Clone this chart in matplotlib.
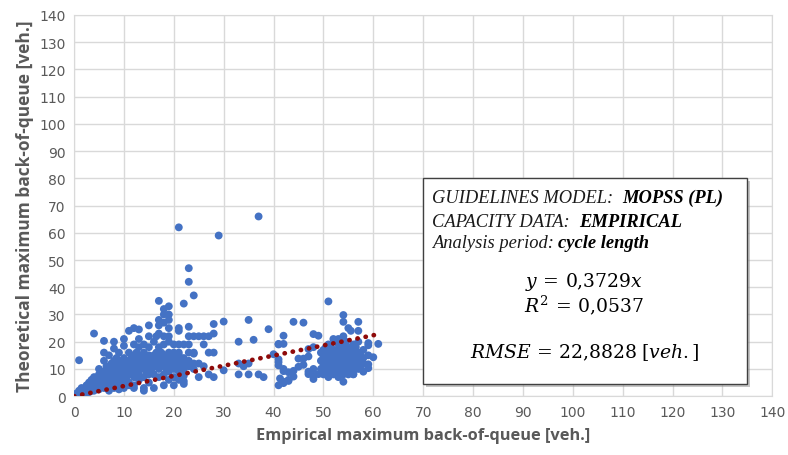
import matplotlib
matplotlib.use("Agg")
import matplotlib.pyplot as plt
from matplotlib.patches import Rectangle
import numpy as np

# empirical vs theoretical maximum back-of-queue [veh.]
empirical = [
    # 0-5
    0.5, 1, 1, 1.5, 1.5, 2, 2, 2.5, 2.5, 3, 3, 3.5, 3.5, 4, 4, 4, 4.5, 4.5, 5, 5, 5, 5,
    2, 3, 4, 5, 6, 7, 8, 9, 10, 11, 12, 14,
    # 5-10
    5.5, 5.5, 6, 6, 6, 6, 6, 6, 6.5, 6.5, 7, 7, 7, 7, 7, 7.5, 7.5, 8, 8, 8, 8, 8, 8, 8,
    8.5, 8.5, 9, 9, 9, 9, 9, 9.5, 9.5, 9.5, 10, 10, 10, 10, 10, 10, 10,
    # 10-15
    10.5, 10.5, 10.5, 11, 11, 11, 11, 11, 11, 11.5, 11.5, 11.5, 12, 12, 12, 12, 12, 12, 12,
    12.5, 12.5, 12.5, 13, 13, 13, 13, 13, 13, 13, 13, 13.5, 13.5, 13.5, 14, 14, 14, 14, 14,
    14, 14.5, 14.5, 14.5, 15, 15, 15, 15, 15, 15, 15, 15,
    # 15-20
    15.5, 15.5, 15.5, 16, 16, 16, 16, 16, 16, 16.5, 16.5, 16.5, 17, 17, 17, 17, 17, 17, 17,
    17, 17, 17.5, 17.5, 17.5, 18, 18, 18, 18, 18, 18, 18, 18, 18, 18, 18.5, 18.5, 18.5,
    19, 19, 19, 19, 19, 19, 19, 19, 19, 19, 19, 19.5, 19.5, 20, 20, 20, 20, 20, 20, 20,
    # 20-30
    20.5, 20.5, 21, 21, 21, 21, 21, 21, 21, 21, 21, 21, 22, 22, 22, 22, 22, 22, 22, 22,
    23, 23, 23, 23, 23, 23, 23, 23, 24, 24, 24, 24, 24, 24, 25, 25, 25,
    26, 26, 26, 27, 27, 27, 28, 28, 28, 28, 29, 30, 30,
    # 30-49
    33, 33, 33, 34, 35, 35, 35, 36, 37, 37, 38, 39, 40, 41, 41, 41, 41, 41, 41, 41.3,
    42, 42, 42, 42, 42, 42, 43, 43, 43, 44, 44, 44, 45, 45, 46, 46, 46, 47, 47, 47,
    47, 48, 48, 48, 48, 48, 49, 49,
    # 49-61
    49.5, 49.5, 49.5, 50, 50, 50, 50, 50, 50, 50.5, 50.5, 50.5, 50.5, 50.5,
    51, 51, 51, 51, 51, 51, 51, 51, 51, 51.5, 51.5, 51.5, 51.5, 51.5,
    52, 52, 52, 52, 52, 52, 52, 52, 52, 52, 52.5, 52.5, 52.5, 52.5, 52.5,
    53, 53, 53, 53, 53, 53, 53, 53, 53, 53, 53, 53.5, 53.5, 53.5, 53.5, 53.5,
    54, 54, 54, 54, 54, 54, 54, 54, 54, 54, 54, 54, 54, 54,
    54.5, 54.5, 54.5, 54.5, 54.5, 54.5, 55, 55, 55, 55, 55, 55, 55, 55, 55,
    55.5, 55.5, 55.5, 55.5, 55.5, 55.5, 56, 56, 56, 56, 56, 56, 56, 56.5, 56.5, 56.5, 56.5,
    57, 57, 57, 57, 57, 57, 57, 57.5, 57.5, 57.5, 58, 58, 58, 58,
    59, 59, 59, 59, 59, 60, 61,
]
theoretical = [
    # 0-5
    1, 2, 13.2, 0.5, 3, 1, 2.5, 4, 1.5, 3, 5, 2, 6, 23, 4, 7, 3, 5.5, 6, 8, 4, 10,
    1, 1.5, 2, 2.5, 3, 2, 3, 2.5, 3.5, 4, 3, 2,
    # 5-10
    7, 5, 20.3, 16, 13, 9, 6, 4, 8, 11, 7, 10, 5, 15, 3, 9, 12, 20, 17.5, 13, 8, 10, 6, 4,
    11, 14, 9, 7, 12, 5, 16, 10, 13, 8, 11, 9, 14, 6, 3, 18.5, 21,
    # 10-15
    10, 12, 7, 24, 11, 13, 8, 16, 5, 9, 14, 12, 25, 10, 13, 15, 7, 19, 4,
    11, 9, 16, 24.5, 12, 14, 10, 8, 18, 21, 6, 11, 13, 15, 10, 12, 16, 7, 3,
    19, 11, 14, 9, 26, 13, 15, 10, 8, 18, 5, 22,
    # 15-20
    12, 14, 9, 11, 13, 15, 8, 20, 3, 12, 16, 22, 35, 26, 28, 13, 15, 10, 7,
    18, 23, 12, 14, 16, 30, 32, 27, 11, 13, 15, 8, 4, 19, 22, 12, 14, 10,
    33, 30, 28, 25, 12, 14, 16, 9, 6, 20, 22, 13, 11, 10, 12, 14, 16, 7, 4, 19,
    # 20-30
    12, 14, 62, 25, 24, 19, 16, 15, 13, 11, 9, 6, 34, 19, 14, 12, 10, 7.5, 5.5, 4.5,
    47, 42, 25.5, 22, 19, 16, 13, 11, 37, 22, 15.6, 16, 12, 10, 22, 7, 12,
    22, 19, 11, 22, 16, 8, 26.5, 23, 16, 7, 59, 27.4, 9.5,
    # 30-49
    20, 12, 8, 11, 28, 12, 8, 20.7, 66, 8, 7, 24.6, 15.4, 19.2, 13.5, 12.5, 11.3, 4, 19, 6.5,
    22.2, 19.2, 9.2, 4.8, 10, 5.3, 5.6, 8.8, 6, 27.3, 7.2, 9.3, 10.8, 13.8, 11.5, 13.8, 27,
    14.6, 17.3, 8.1, 9, 22.8, 18, 7.5, 6.3, 10, 22.2, 8.1,
    # 49-61
    10, 13, 16, 8, 11, 12, 14, 15, 17, 9, 12, 13, 16, 18,
    7, 10, 11, 13, 14, 15, 17, 19, 34.8, 9, 12, 14, 16, 18,
    8, 10, 11, 12, 13, 14, 15, 16, 17, 21, 9, 11, 13, 15, 20.3,
    7, 10, 11, 12, 13, 14, 15, 16, 17, 19, 21, 9, 12, 14, 16, 18,
    5.3, 8, 10, 11, 12, 13, 14, 15, 16, 17, 19, 22, 27.3, 29.8,
    9, 11, 13, 15, 17, 20, 8, 10, 12, 13, 14, 15, 16, 18, 25,
    9, 11, 13, 15, 17, 24, 8, 8.1, 10, 12, 14, 16, 19, 11, 13, 15, 18,
    10, 12, 14, 16, 20, 24, 27.3, 11, 13, 15, 9, 12, 14, 17,
    10.3, 11.7, 15, 18.7, 19.5, 14.3, 19.2,
]
slope = 0.3729
x_ticks = list(range(0, 141, 10))
y_ticks = list(range(0, 141, 10))

grey = "#595959"
grid_c = "#D9D9D9"
plt.rcParams["mathtext.fontset"] = "dejavuserif"

fig = plt.figure(figsize=(7.88, 4.56), dpi=100)
ax = fig.add_axes([0.094, 0.129, 0.886, 0.836])

ax.scatter(empirical, theoretical, s=32, color="#4472C4", edgecolors="none", zorder=3)

# linear trendline through origin
tx = np.linspace(0, max(empirical), 50)
ax.plot(tx, slope * tx, color="#8E0A0A", lw=3.4, linestyle=(0, (0.05, 1.7)),
        dash_capstyle="round", zorder=4)

ax.set_xlim(0, 140)
ax.set_ylim(0, 140)
ax.set_xticks(x_ticks)
ax.set_yticks(y_ticks)
ax.grid(True, color=grid_c, lw=1)
ax.set_axisbelow(True)
for sp in ax.spines.values():
    sp.set_color(grid_c)
ax.tick_params(length=0, labelsize=10, colors=grey, pad=6)

ax.set_xlabel("Empirical maximum back-of-queue [veh.]", fontsize=11.8,
              fontweight="bold", color=grey, family="Open Sans", labelpad=6)
ax.set_ylabel("Theoretical maximum back-of-queue [veh.]", fontsize=12.5,
              fontweight="bold", color=grey, family="Open Sans", labelpad=4)

# annotation box with shadow
x0, x1 = 423 / 788, 747 / 788
y0, y1 = 1 - 385 / 456, 1 - 179 / 456
shadow = Rectangle((x0 + 0.004, y0 - 0.007), x1 - x0, y1 - y0, transform=fig.transFigure,
                   facecolor="#8c8c8c", edgecolor="none", alpha=0.5, zorder=5)
box = Rectangle((x0, y0), x1 - x0, y1 - y0, transform=fig.transFigure,
                facecolor="white", edgecolor="#404040", lw=1, zorder=6)
fig.add_artist(shadow)
fig.add_artist(box)

serif = "Liberation Serif"
fs = 13.3
lines = [("GUIDELINES MODEL:  ", "MOPSS (PL)", 1 - 203 / 456),
         ("CAPACITY DATA:  ", "EMPIRICAL", 1 - 227 / 456),
         ("Analysis period: ", "cycle length", 1 - 248 / 456)]
fig.canvas.draw()
renderer = fig.canvas.get_renderer()
for reg, bold, yy in lines:
    t = fig.text(432 / 788, yy, reg, family=serif, style="italic", fontsize=fs,
                 color="#1a1a1a", va="baseline", zorder=7)
    bb = t.get_window_extent(renderer=renderer)
    fig.text(bb.x1 / fig.bbox.width, yy, bold, family=serif, style="italic",
             fontweight="bold", fontsize=fs, color="black", va="baseline", zorder=7)

mfs = 13.5
fig.text(584 / 788, 1 - 282 / 456, r"$y\,=\,0{,}3729x$", ha="center", va="center",
         fontsize=mfs, zorder=7)
fig.text(584 / 788, 1 - 305 / 456, r"$R^2\,=\,0{,}0537$", ha="center", va="center",
         fontsize=mfs, zorder=7)
fig.text(585 / 788, 1 - 353 / 456, r"$RMSE\,=\,22{,}8828\;[veh.]$", ha="center",
         va="center", fontsize=mfs, zorder=7)

fig.savefig("out.png", dpi=100)
